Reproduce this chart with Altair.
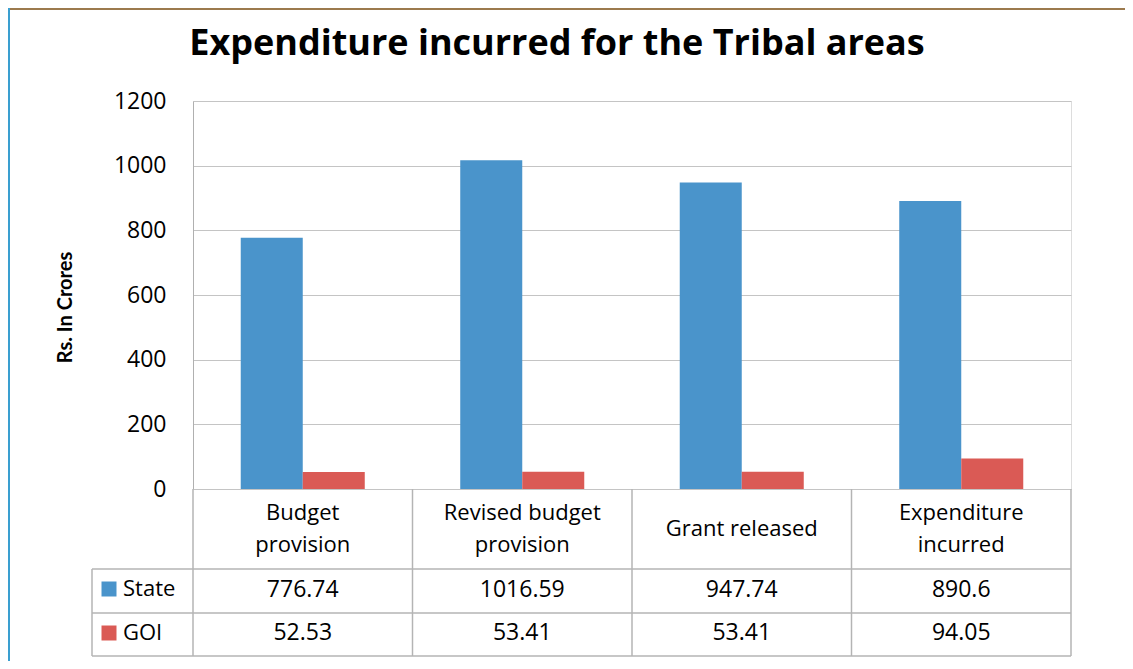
import altair as alt
import pandas as pd

# ---------------- data ----------------
categories = ["Budget provision", "Revised budget provision", "Grant released", "Expenditure incurred"]
header_labels = ["Budget\nprovision", "Revised budget\nprovision", "Grant released", "Expenditure\nincurred"]
series = ["State", "GOI"]
state_values = [776.74, 1016.59, 947.74, 890.6]
goi_values = [52.53, 53.41, 53.41, 94.05]
y_ticks = [0, 200, 400, 600, 800, 1000, 1200]
colors = ["#4A94CB", "#DA5A55"]
title_text = "Expenditure incurred for the Tribal areas"
y_title = "Rs. In Crores"

# ---------------- layout constants ----------------
W, H = 878, 388            # plot area
FONT = "Open Sans"
LEG_LEFT = -101            # left edge of legend column of the data table
ROW1_TOP = H + 80          # bottom of header row
ROW2_TOP = ROW1_TOP + 44
TABLE_BOTTOM = ROW2_TOP + 43
HEADER_MID = H + 40
LINE_H = 32
GRID = "#c4c4c4"
TABLE_LINE = "#b4b4b4"
FS = 23

rows = []
for s, vals in zip(series, [state_values, goi_values]):
    for c, v in zip(categories, vals):
        rows.append({"category": c, "series": s, "value": v, "label": str(v)})
df = pd.DataFrame(rows)

hdr_rows = []
for c, lab in zip(categories, header_labels):
    parts = lab.split("\n")
    n = len(parts)
    for i, p in enumerate(parts):
        hdr_rows.append({"category": c, "line": p, "py": HEADER_MID + (i - (n - 1) / 2) * LINE_H})
hdr = pd.DataFrame(hdr_rows)

x_scale = alt.Scale(domain=categories, paddingInner=0.435, paddingOuter=0.2175)
color_scale = alt.Scale(domain=series, range=colors)
xcat = alt.X("category:N", sort=categories, scale=x_scale, axis=None)

bars = alt.Chart(df).mark_bar().encode(
    x=xcat,
    xOffset=alt.XOffset("series:N", sort=series),
    y=alt.Y("value:Q",
            scale=alt.Scale(domain=[0, 1200], nice=False),
            axis=alt.Axis(values=y_ticks, format="d", grid=True, gridColor=GRID, gridWidth=1,
                          domainColor="#b0b0b0", ticks=False,
                          labelFont=FONT, labelFontSize=FS, labelColor="black",
                          labelPadding=27,
                          title=y_title, titleFont="Lato", titleFontSize=20,
                          titleFontWeight="bold", titleColor="black",
                          titleX=-128, titleY=206, titleBaseline="middle")),
    color=alt.Color("series:N", scale=color_scale, legend=None),
)

header_text = alt.Chart(hdr).mark_text(
    font=FONT, fontSize=FS - 1, baseline="middle", color="black"
).encode(x=xcat, y=alt.Y("py:Q", scale=None, axis=None), text="line:N")

state_text = alt.Chart(df).transform_filter(alt.datum.series == "State").mark_text(
    font=FONT, fontSize=FS, baseline="middle", color="black"
).encode(x=xcat, y=alt.value(ROW1_TOP + 21), text="label:N")

goi_text = alt.Chart(df).transform_filter(alt.datum.series == "GOI").mark_text(
    font=FONT, fontSize=FS, baseline="middle", color="black"
).encode(x=xcat, y=alt.value(ROW2_TOP + 20), text="label:N")

# table grid lines (pixel positions derived from layout constants)
col_edges = [i * W / len(categories) for i in range(len(categories) + 1)]
lines = []
for yy in [ROW1_TOP, ROW2_TOP, TABLE_BOTTOM]:
    lines.append({"x": LEG_LEFT, "x2": W, "y": yy, "y2": yy})
for xx in col_edges:
    lines.append({"x": xx, "x2": xx, "y": H, "y2": TABLE_BOTTOM})
lines.append({"x": LEG_LEFT, "x2": LEG_LEFT, "y": ROW1_TOP, "y2": TABLE_BOTTOM})
lines_df = pd.DataFrame(lines)

table_lines = alt.Chart(lines_df).mark_rule(color=TABLE_LINE, strokeWidth=1.5).encode(
    x=alt.X("x:Q", scale=None, axis=None),
    x2="x2:Q",
    y=alt.Y("y:Q", scale=None, axis=None),
    y2="y2:Q",
)

leg = pd.DataFrame({"series": series, "py": [ROW1_TOP + 20, ROW2_TOP + 20]})
leg_sq = alt.Chart(leg).mark_square(size=225, opacity=1, filled=True).encode(
    x=alt.value(LEG_LEFT + 17),
    y=alt.Y("py:Q", scale=None, axis=None),
    color=alt.Color("series:N", scale=color_scale, legend=None),
)
leg_txt = alt.Chart(leg).mark_text(
    font=FONT, fontSize=FS - 1, align="left", baseline="middle", color="black"
).encode(
    x=alt.value(LEG_LEFT + 31),
    y=alt.Y("py:Q", scale=None, axis=None),
    text="series:N",
)

title = alt.Chart(pd.DataFrame({"t": [title_text]})).mark_text(
    font=FONT, fontSize=36, fontWeight="bold", align="center", baseline="alphabetic", color="black"
).encode(x=alt.value(364), y=alt.value(-46), text="t:N")

frame_top = alt.Chart(pd.DataFrame({"a": [0]})).mark_rule(color="#9C7A4E", strokeWidth=2).encode(
    x=alt.value(-186), x2=alt.value(W + 60), y=alt.value(-92)
)
frame_left = alt.Chart(pd.DataFrame({"a": [0]})).mark_rule(color="#3A9FD0", strokeWidth=2).encode(
    x=alt.value(-184), y=alt.value(-93), y2=alt.value(H + 200)
)

chart = alt.layer(
    bars, table_lines, header_text, state_text, goi_text, leg_sq, leg_txt, title, frame_top, frame_left
).properties(
    width=W, height=H,
    autosize=alt.AutoSizeParams(type="none"),
    padding={"left": 185, "top": 93, "right": 54, "bottom": 172},
).configure_view(stroke=None).configure(font=FONT)

chart.save("out.html", embed_options={"renderer": "svg", "actions": False})
